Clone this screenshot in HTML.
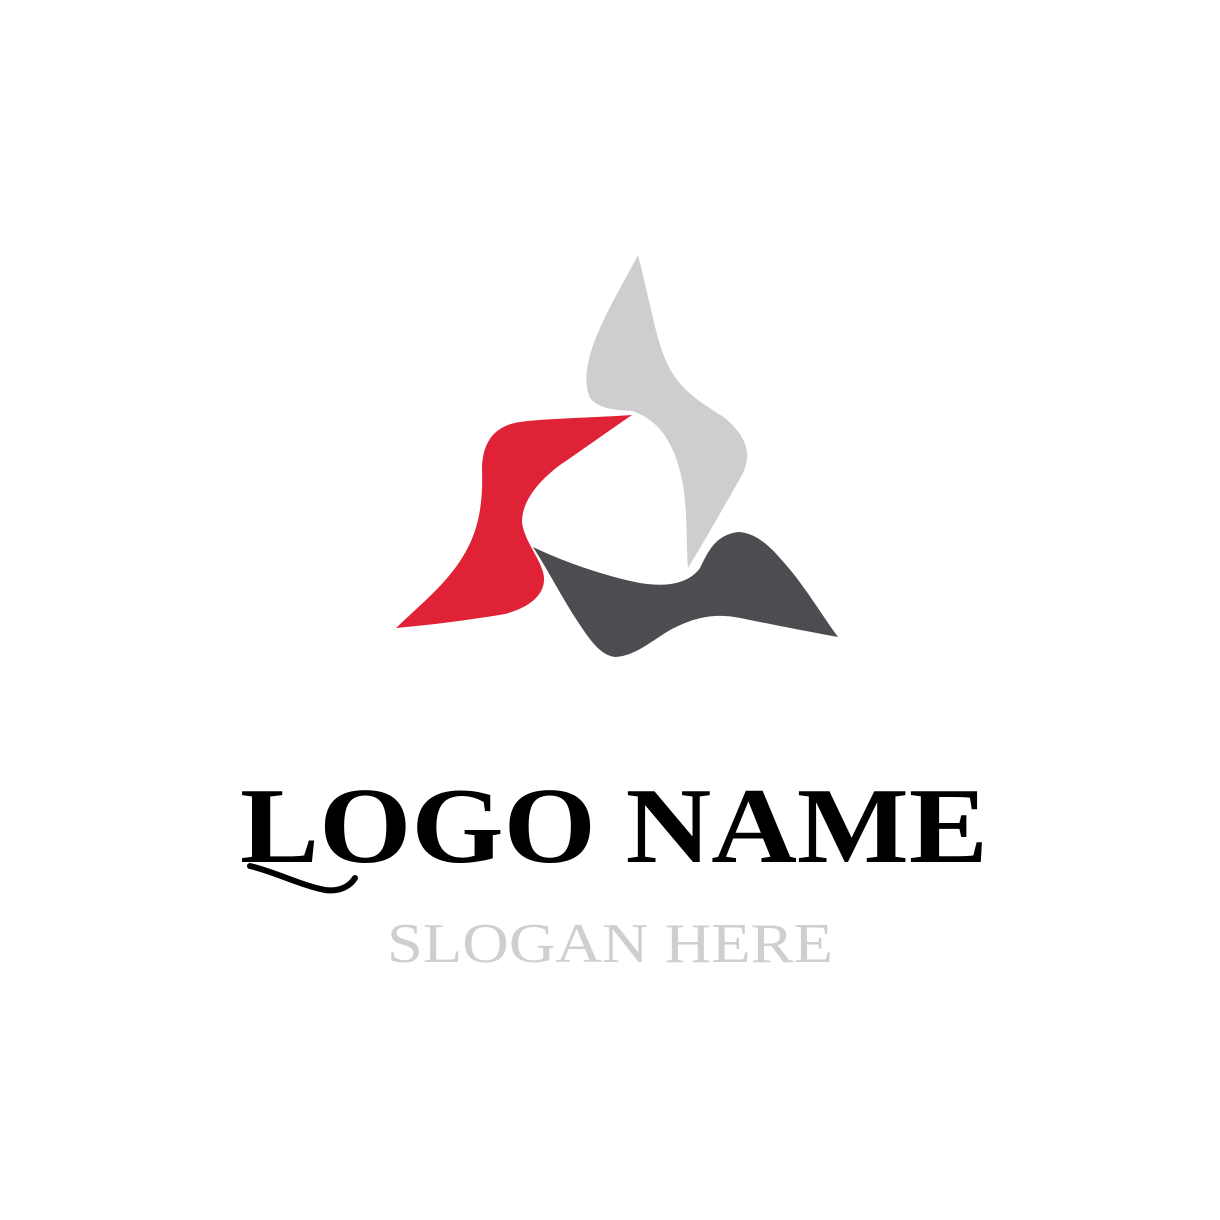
<!DOCTYPE html>
<html>
<head>
<meta charset="utf-8">
<style>
  html,body{margin:0;padding:0;background:#fff;}
  svg{display:block;}
</style>
</head>
<body>
<svg width="1220" height="1220" viewBox="0 0 1220 1220" xmlns="http://www.w3.org/2000/svg">
  <rect width="1220" height="1220" fill="#ffffff"/>
  <g>
    <path fill="#cdcecf"
      d="M638,255 C625,280 610,305 600,328 C588,355 582,380 590,398 C600,410 618,410 632,411 C660,420 675,445 682,480 C688,510 686,545 688,568 C705,540 725,505 742,475 C752,455 748,438 725,418 C700,402 680,390 668,365 C656,340 652,310 638,255 Z"/>
    <path fill="#e02237"
      d="M632,415 C590,418 550,418 520,422 C492,426 482,445 482,470 C483,500 480,530 462,558 C445,585 420,605 396,628 C430,625 470,620 505,614 C535,606 548,590 543,572 C538,555 524,540 522,522 C522,500 540,480 560,465 C585,448 610,430 632,415 Z"/>
    <path fill="#4d4c50"
      d="M533,547 C560,560 600,575 640,583 C670,588 690,582 700,568 C708,552 715,535 738,532 C760,533 775,552 792,572 C808,592 822,615 838,637 C810,632 780,626 745,619 C715,612 695,617 670,630 C650,642 635,656 615,657 C600,655 590,640 578,622 C562,598 548,570 533,547 Z"/>
  </g>
  <g>
    <text x="240" y="862" font-family="'Liberation Serif', serif" font-weight="bold" font-size="108" textLength="748" lengthAdjust="spacingAndGlyphs" fill="#000">LOGO NAME</text>
    <path d="M250,866 C275,872 300,885 325,890 C340,892 350,886 355,878" fill="none" stroke="#000" stroke-width="6" stroke-linecap="round"/>
    <text x="387" y="962" font-family="'Liberation Serif', serif" font-size="56" textLength="446" lengthAdjust="spacingAndGlyphs" fill="#cfcfcf">SLOGAN HERE</text>
  </g>
</svg>
</body>
</html>
